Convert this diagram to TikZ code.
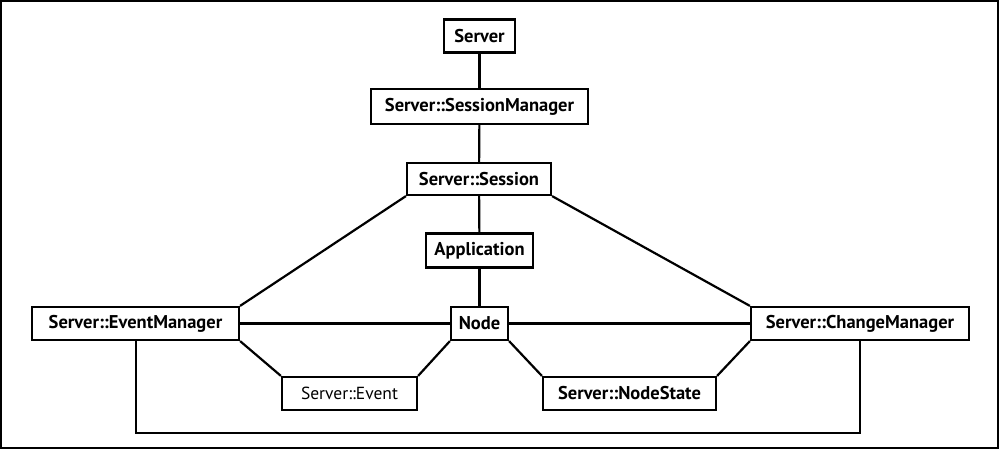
\documentclass[tikz,border=0pt]{standalone}
\usepackage{fontspec}
\setmainfont{PT Sans}
\begin{document}
\begin{tikzpicture}[x=1pt,y=-1pt,
  box/.style={draw,line width=2.2pt,inner sep=0pt,font=\fontsize{18.5}{20}\selectfont\bfseries},
  conn/.style={line width=2.2pt}]
\useasboundingbox (0,0) rectangle (999,449);
\draw[line width=2pt] (1,1) rectangle (998,448);
\node[box,minimum width=71pt,minimum height=33pt] (server) at (479.5,36) {Server};
\node[box,minimum width=217pt,minimum height=35pt] (sm) at (479.5,106.5) {Server::SessionManager};
\node[box,minimum width=144pt,minimum height=32pt] (session) at (479,179) {Server::Session};
\node[box,minimum width=107pt,minimum height=34pt] (app) at (479.5,250.5) {Application};
\node[box,minimum width=207pt,minimum height=33pt] (em) at (135.5,323.5) {Server::EventManager};
\node[box,minimum width=57pt,minimum height=33pt] (node) at (479.5,323.5) {Node};
\node[box,minimum width=218pt,minimum height=33pt] (cm) at (860,323.5) {Server::ChangeManager};
\node[box,minimum width=135pt,minimum height=33pt,font=\fontsize{17.5}{19}\selectfont] (event) at (349.5,393.5) {Server::Event};
\node[box,minimum width=173pt,minimum height=33pt] (ns) at (629.5,393.5) {Server::NodeState};
\draw[conn] (server) -- (sm);
\draw[conn] (sm) -- (session);
\draw[conn] (session) -- (app);
\draw[conn] (app) -- (node);
\draw[conn] (session.south west) -- (em.north east);
\draw[conn] (session.south east) -- (cm.north west);
\draw[conn] (em) -- (node);
\draw[conn] (node) -- (cm);
\draw[conn] (em.south east) -- (event.north west);
\draw[conn] (node.south west) -- (event.north east);
\draw[conn] (node.south east) -- (ns.north west);
\draw[conn] (cm.south west) -- (ns.north east);
\coordinate (loopl) at (136,433);
\draw[conn] (em.south -| loopl) -- (loopl) -| (cm.south);
\end{tikzpicture}
\end{document}
